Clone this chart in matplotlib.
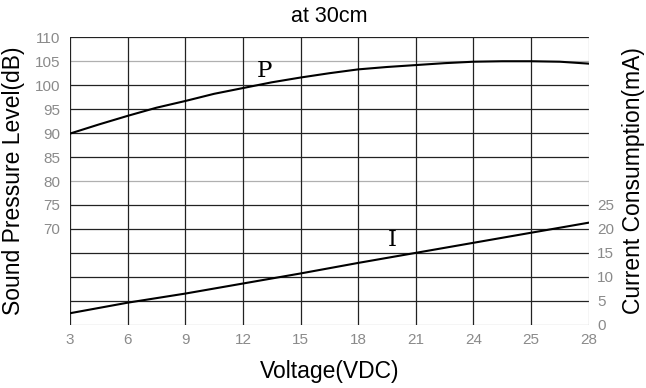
import numpy as np
import matplotlib.pyplot as plt

plt.rcParams.update({
    "font.family": "sans-serif",
    "font.sans-serif": ["Liberation Sans", "DejaVu Sans"],
})

# data (x is the grid index of the voltage tick)
voltage_labels = ["3", "6", "9", "12", "15", "18", "21", "24", "25", "28"]
spl_pos = [0, 0.5, 1, 1.5, 2, 2.5, 3, 3.5, 4, 4.5, 5, 5.5, 6, 6.5, 7, 7.5, 8, 8.5, 9]
spl_db = [89.9, 91.8, 93.6, 95.3, 96.7, 98.2, 99.4, 100.6, 101.6, 102.5,
          103.3, 103.8, 104.2, 104.6, 104.9, 105.0, 105.0, 104.9, 104.5]
cur_pos = [0, 1, 2, 3, 4, 5, 6, 7, 8, 9]
current_ma = [2.4, 4.6, 6.5, 8.6, 10.7, 12.9, 15.0, 17.1, 19.2, 21.3]

left_ticks = [70, 75, 80, 85, 90, 95, 100, 105, 110]
right_ticks = [0, 5, 10, 15, 20, 25]
grey_rows = [105, 80, 50]

x = np.arange(len(voltage_labels))

fig = plt.figure(figsize=(6.46, 3.88), dpi=100)
ax = fig.add_axes([0.1084, 0.1631, 0.8029, 0.7408])
ax2 = ax.twinx()

ax.set_xlim(0, len(x) - 1)
ax.set_ylim(50, 110)
ax2.set_ylim(0, 60)

# grid
for v in range(50, 111, 5):
    c = "#b0b0b0" if v in grey_rows else "#222222"
    ax.axhline(v, color=c, lw=0.9, zorder=1)
for xi in x:
    c = "#b0b0b0" if xi == x[-1] else "#222222"
    ax.axvline(xi, color=c, lw=0.9, zorder=1)

for s in ax.spines.values():
    s.set_visible(False)
for s in ax2.spines.values():
    s.set_visible(False)

ax.plot(spl_pos, spl_db, color="black", lw=1.5, zorder=3)
ax2.plot(cur_pos, current_ma, color="black", lw=1.5, zorder=3)

ax.text(3.38, 103.0, "P", family="DejaVu Serif", fontsize=16.5, ha="center", va="center")
ax2.text(5.59, 17.6, "I", family="DejaVu Serif", fontsize=16.5, ha="center", va="center")

tick_color = "#8a8a8a"
ax.set_xticks(x)
ax.set_xticklabels(voltage_labels)
ax.set_yticks(left_ticks)
ax.set_yticklabels([str(t) for t in left_ticks])
ax2.set_yticks(right_ticks)
ax2.set_yticklabels([str(t) for t in right_ticks])
ax.tick_params(axis="x", length=0, pad=6, labelsize=11, labelcolor=tick_color)
ax.tick_params(axis="y", length=0, pad=7, labelsize=11, labelcolor=tick_color)
ax2.tick_params(axis="y", length=0, pad=6, labelsize=11, labelcolor=tick_color)

ax.set_xlabel("Voltage(VDC)", fontsize=16.5, labelpad=9)
ax.set_ylabel("Sound Pressure Level(dB)", fontsize=16.5, labelpad=7)
ax2.set_ylabel("Current Consumption(mA)", fontsize=16.5, labelpad=6)
ax.set_title("at 30cm", fontsize=15.5, pad=11)

plt.savefig("out.png", dpi=100)
plt.close()
